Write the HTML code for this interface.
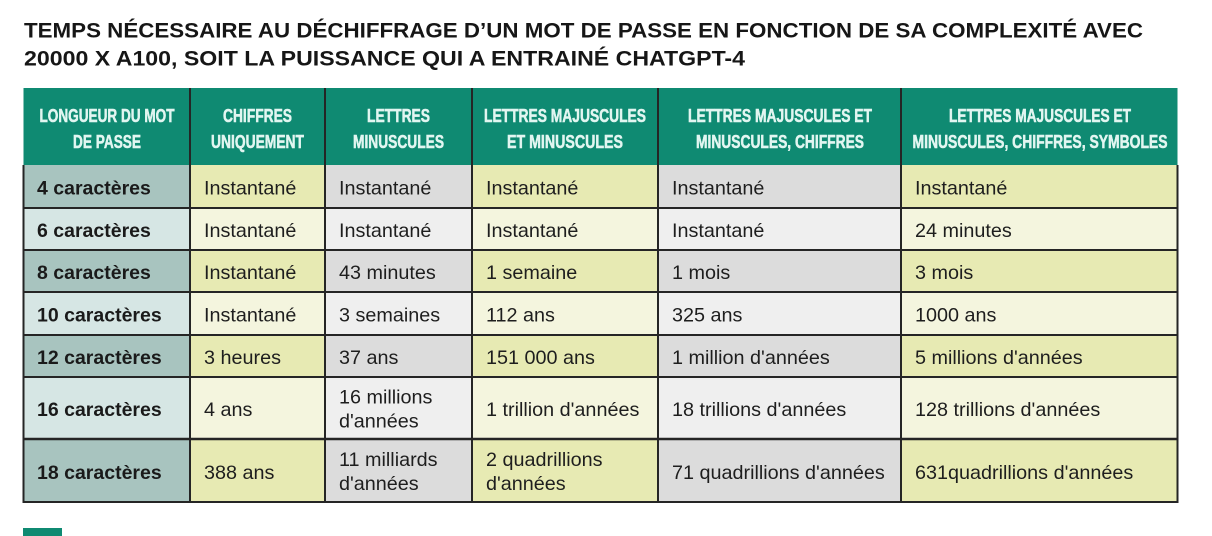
<!DOCTYPE html>
<html>
<head>
<meta charset="utf-8">
<style>
  html,body{margin:0;padding:0;background:#ffffff;}
  body{width:1212px;height:536px;overflow:hidden;}
  svg{display:block;}
  .t{font-family:"Liberation Sans",sans-serif;font-weight:bold;font-size:21px;fill:#161616;}
  .h{font-family:"Liberation Sans",sans-serif;font-weight:bold;font-size:18.5px;fill:#e2f6f1;stroke:#e2f6f1;stroke-width:0.55px;}
  .b{font-family:"Liberation Sans",sans-serif;font-size:19.8px;fill:#1e1e1e;}
  .l{font-family:"Liberation Sans",sans-serif;font-weight:bold;font-size:19.5px;fill:#1a1a1a;}
</style>
</head>
<body>
<svg width="1212" height="536" viewBox="0 0 1212 536" xmlns="http://www.w3.org/2000/svg">
  <!-- Title -->
  <text class="t" x="24" y="37.5" textLength="1119" lengthAdjust="spacingAndGlyphs">TEMPS NÉCESSAIRE AU DÉCHIFFRAGE D’UN MOT DE PASSE EN FONCTION DE SA COMPLEXITÉ AVEC</text>
  <text class="t" x="24" y="65.5" textLength="721" lengthAdjust="spacingAndGlyphs">20000 X A100, SOIT LA PUISSANCE QUI A ENTRAINÉ CHATGPT-4</text>

  <!-- Header background -->
  <rect x="23.5" y="88" width="1154" height="77" fill="#0f8a72"/>

  <!-- Row label column -->
  <rect x="23.5" y="165" width="166.5" height="43" fill="#a8c4bf"/>
  <rect x="23.5" y="208" width="166.5" height="42" fill="#d6e6e4"/>
  <rect x="23.5" y="250" width="166.5" height="42" fill="#a8c4bf"/>
  <rect x="23.5" y="292" width="166.5" height="43" fill="#d6e6e4"/>
  <rect x="23.5" y="335" width="166.5" height="42" fill="#a8c4bf"/>
  <rect x="23.5" y="377" width="166.5" height="62" fill="#d6e6e4"/>
  <rect x="23.5" y="439" width="166.5" height="63" fill="#a8c4bf"/>

  <!-- Yellow-green columns (2,4,6) -->
  <g>
    <rect x="190" y="165" width="135" height="43" fill="#e7eab3"/>
    <rect x="190" y="208" width="135" height="42" fill="#f4f5de"/>
    <rect x="190" y="250" width="135" height="42" fill="#e7eab3"/>
    <rect x="190" y="292" width="135" height="43" fill="#f4f5de"/>
    <rect x="190" y="335" width="135" height="42" fill="#e7eab3"/>
    <rect x="190" y="377" width="135" height="62" fill="#f4f5de"/>
    <rect x="190" y="439" width="135" height="63" fill="#e7eab3"/>

    <rect x="472" y="165" width="186" height="43" fill="#e7eab3"/>
    <rect x="472" y="208" width="186" height="42" fill="#f4f5de"/>
    <rect x="472" y="250" width="186" height="42" fill="#e7eab3"/>
    <rect x="472" y="292" width="186" height="43" fill="#f4f5de"/>
    <rect x="472" y="335" width="186" height="42" fill="#e7eab3"/>
    <rect x="472" y="377" width="186" height="62" fill="#f4f5de"/>
    <rect x="472" y="439" width="186" height="63" fill="#e7eab3"/>

    <rect x="901" y="165" width="276.5" height="43" fill="#e7eab3"/>
    <rect x="901" y="208" width="276.5" height="42" fill="#f4f5de"/>
    <rect x="901" y="250" width="276.5" height="42" fill="#e7eab3"/>
    <rect x="901" y="292" width="276.5" height="43" fill="#f4f5de"/>
    <rect x="901" y="335" width="276.5" height="42" fill="#e7eab3"/>
    <rect x="901" y="377" width="276.5" height="62" fill="#f4f5de"/>
    <rect x="901" y="439" width="276.5" height="63" fill="#e7eab3"/>
  </g>

  <!-- Grey columns (3,5) -->
  <g>
    <rect x="325" y="165" width="147" height="43" fill="#dcdcdc"/>
    <rect x="325" y="208" width="147" height="42" fill="#efefef"/>
    <rect x="325" y="250" width="147" height="42" fill="#dcdcdc"/>
    <rect x="325" y="292" width="147" height="43" fill="#efefef"/>
    <rect x="325" y="335" width="147" height="42" fill="#dcdcdc"/>
    <rect x="325" y="377" width="147" height="62" fill="#efefef"/>
    <rect x="325" y="439" width="147" height="63" fill="#dcdcdc"/>

    <rect x="658" y="165" width="243" height="43" fill="#dcdcdc"/>
    <rect x="658" y="208" width="243" height="42" fill="#efefef"/>
    <rect x="658" y="250" width="243" height="42" fill="#dcdcdc"/>
    <rect x="658" y="292" width="243" height="43" fill="#efefef"/>
    <rect x="658" y="335" width="243" height="42" fill="#dcdcdc"/>
    <rect x="658" y="377" width="243" height="62" fill="#efefef"/>
    <rect x="658" y="439" width="243" height="63" fill="#dcdcdc"/>
  </g>

  <!-- Grid lines -->
  <g stroke="#252525" stroke-width="2" fill="none">
    <line x1="190" y1="88" x2="190" y2="502"/>
    <line x1="325" y1="88" x2="325" y2="502"/>
    <line x1="472" y1="88" x2="472" y2="502"/>
    <line x1="658" y1="88" x2="658" y2="502"/>
    <line x1="901" y1="88" x2="901" y2="502"/>
    <line x1="23.5" y1="165" x2="23.5" y2="503"/>
    <line x1="1177.5" y1="165" x2="1177.5" y2="503"/>
    <line x1="23.5" y1="208" x2="1177.5" y2="208"/>
    <line x1="23.5" y1="250" x2="1177.5" y2="250"/>
    <line x1="23.5" y1="292" x2="1177.5" y2="292"/>
    <line x1="23.5" y1="335" x2="1177.5" y2="335"/>
    <line x1="23.5" y1="377" x2="1177.5" y2="377"/>
    <line x1="23.5" y1="439" x2="1177.5" y2="439" stroke-width="2.5"/>
    <line x1="22.5" y1="502" x2="1178.5" y2="502"/>
  </g>

  <!-- Header text -->
  <g text-anchor="middle">
    <text class="h" x="107" y="122" textLength="135" lengthAdjust="spacingAndGlyphs">LONGUEUR DU MOT</text>
    <text class="h" x="107" y="148" textLength="68" lengthAdjust="spacingAndGlyphs">DE PASSE</text>

    <text class="h" x="257.5" y="122" textLength="69" lengthAdjust="spacingAndGlyphs">CHIFFRES</text>
    <text class="h" x="257.5" y="148" textLength="93" lengthAdjust="spacingAndGlyphs">UNIQUEMENT</text>

    <text class="h" x="398.5" y="122" textLength="63" lengthAdjust="spacingAndGlyphs">LETTRES</text>
    <text class="h" x="398.5" y="148" textLength="91" lengthAdjust="spacingAndGlyphs">MINUSCULES</text>

    <text class="h" x="565" y="122" textLength="162" lengthAdjust="spacingAndGlyphs">LETTRES MAJUSCULES</text>
    <text class="h" x="565" y="148" textLength="116" lengthAdjust="spacingAndGlyphs">ET MINUSCULES</text>

    <text class="h" x="780" y="122" textLength="184" lengthAdjust="spacingAndGlyphs">LETTRES MAJUSCULES ET</text>
    <text class="h" x="780" y="148" textLength="168" lengthAdjust="spacingAndGlyphs">MINUSCULES, CHIFFRES</text>

    <text class="h" x="1040" y="122" textLength="182" lengthAdjust="spacingAndGlyphs">LETTRES MAJUSCULES ET</text>
    <text class="h" x="1040" y="148" textLength="255" lengthAdjust="spacingAndGlyphs">MINUSCULES, CHIFFRES, SYMBOLES</text>
  </g>

  <!-- Row labels -->
  <text class="l" x="37" y="194.5">4 caractères</text>
  <text class="l" x="37" y="237">6 caractères</text>
  <text class="l" x="37" y="279">8 caractères</text>
  <text class="l" x="37" y="321.5">10 caractères</text>
  <text class="l" x="37" y="364">12 caractères</text>
  <text class="l" x="37" y="416">16 caractères</text>
  <text class="l" x="37" y="479">18 caractères</text>

  <!-- Row 4 -->
  <text class="b" x="204" y="194.5">Instantané</text>
  <text class="b" x="339" y="194.5">Instantané</text>
  <text class="b" x="486" y="194.5">Instantané</text>
  <text class="b" x="672" y="194.5">Instantané</text>
  <text class="b" x="915" y="194.5">Instantané</text>

  <!-- Row 6 -->
  <text class="b" x="204" y="237">Instantané</text>
  <text class="b" x="339" y="237">Instantané</text>
  <text class="b" x="486" y="237">Instantané</text>
  <text class="b" x="672" y="237">Instantané</text>
  <text class="b" x="915" y="237">24 minutes</text>

  <!-- Row 8 -->
  <text class="b" x="204" y="279">Instantané</text>
  <text class="b" x="339" y="279">43 minutes</text>
  <text class="b" x="486" y="279">1 semaine</text>
  <text class="b" x="672" y="279">1 mois</text>
  <text class="b" x="915" y="279">3 mois</text>

  <!-- Row 10 -->
  <text class="b" x="204" y="321.5">Instantané</text>
  <text class="b" x="339" y="321.5">3 semaines</text>
  <text class="b" x="486" y="321.5">112 ans</text>
  <text class="b" x="672" y="321.5">325 ans</text>
  <text class="b" x="915" y="321.5">1000 ans</text>

  <!-- Row 12 -->
  <text class="b" x="204" y="364">3 heures</text>
  <text class="b" x="339" y="364">37 ans</text>
  <text class="b" x="486" y="364">151 000 ans</text>
  <text class="b" x="672" y="364">1 million d'années</text>
  <text class="b" x="915" y="364">5 millions d'années</text>

  <!-- Row 16 -->
  <text class="b" x="204" y="416">4 ans</text>
  <text class="b" x="339" y="403.5">16 millions</text>
  <text class="b" x="339" y="427.5">d'années</text>
  <text class="b" x="486" y="416">1 trillion d'années</text>
  <text class="b" x="672" y="416">18 trillions d'années</text>
  <text class="b" x="915" y="416">128 trillions d'années</text>

  <!-- Row 18 -->
  <text class="b" x="204" y="479">388 ans</text>
  <text class="b" x="339" y="466">11 milliards</text>
  <text class="b" x="339" y="490">d'années</text>
  <text class="b" x="486" y="466">2 quadrillions</text>
  <text class="b" x="486" y="490">d'années</text>
  <text class="b" x="672" y="479">71 quadrillions d'années</text>
  <text class="b" x="915" y="479">631quadrillions d'années</text>

  <!-- Page marker -->
  <rect x="23" y="528" width="39" height="8" fill="#0f8a72"/>
</svg>
</body>
</html>
